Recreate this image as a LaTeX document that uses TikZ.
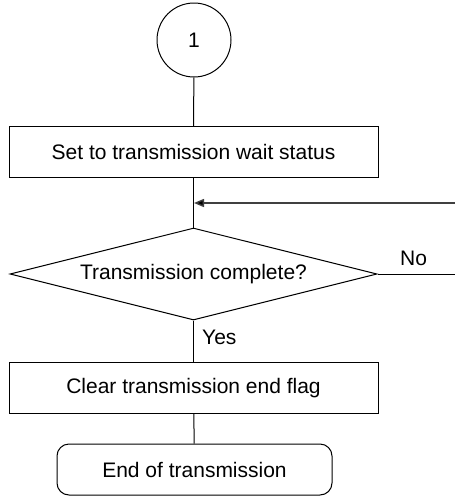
\documentclass[tikz,border=0pt]{standalone}
\usepackage{fontspec}
\setmainfont{Liberation Sans}
\usetikzlibrary{shapes.geometric,arrows.meta}
\begin{document}
\begin{tikzpicture}[x=1pt,y=-1pt,
  every node/.style={font=\fontsize{21}{24}\selectfont},
  procbox/.style={draw,line width=1pt,rectangle,minimum width=369pt,minimum height=51pt,inner sep=0pt},
  conn/.style={line width=1pt},
  lbl/.style={inner sep=0pt}]
\useasboundingbox (0,0) rectangle (455,496);
\node[draw,circle,line width=1pt,minimum size=74pt,inner sep=0pt] (c1) at (194,40) {1};
\node[procbox] (b1) at (193.5,152) {Set to transmission wait status};
\node[draw,diamond,aspect=3.99,minimum width=367pt,minimum height=92pt,inner sep=0pt,line width=1pt] (d1) at (193.5,274) {Transmission complete?};
\node[procbox] (b2) at (193.5,388) {Clear transmission end flag};
\node[draw,rectangle,rounded corners=12pt,minimum width=275pt,minimum height=51pt,inner sep=0pt,line width=1pt] (t1) at (194.5,469.5) {End of transmission};
\coordinate (ret) at (455,203);
\coordinate (merge) at (194,203);
\coordinate (noend) at (455,274);
\draw[conn] (c1) -- (b1);
\draw[conn] (b1) -- (d1);
\draw[conn] (d1) -- (b2);
\draw[conn] (b2) -- (t1);
\draw[line width=1.4pt,draw=black!75,-{Triangle[length=10pt,width=8pt,fill=black]}] (ret) -- (merge);
\draw[conn] (d1.east) -- (noend);
\node[lbl,anchor=base west] (no) at (400,265) {No};
\node[lbl,anchor=base west] (yes) at (202,344) {Yes};
\end{tikzpicture}
\end{document}
